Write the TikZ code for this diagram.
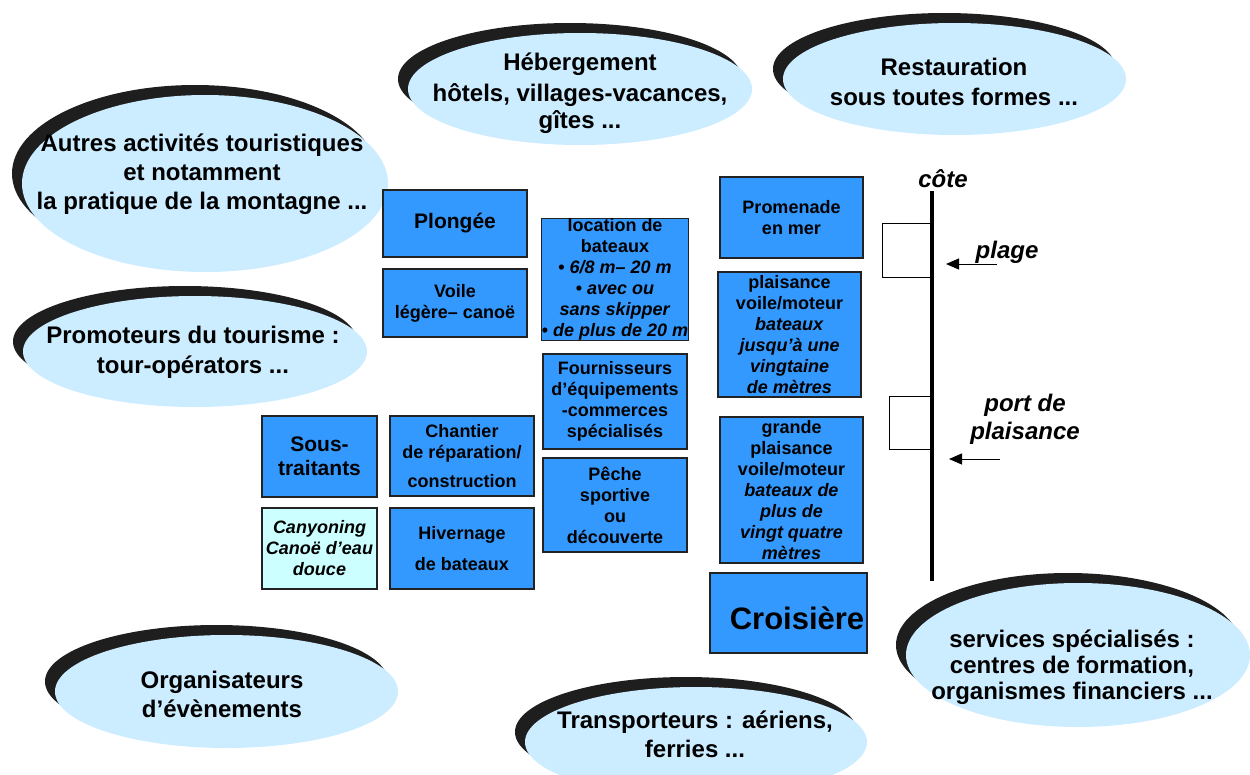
\documentclass[tikz,border=0pt]{standalone}
\usepackage{fontspec}
\setmainfont{Liberation Sans}
\usetikzlibrary{shapes.geometric,shadows,arrows.meta}
\definecolor{cloudfill}{RGB}{204,236,255}
\definecolor{cloudrim}{RGB}{30,30,30}
\definecolor{boxblue}{RGB}{51,153,255}
\definecolor{boxpale}{RGB}{204,255,255}
\definecolor{boxline}{RGB}{34,34,34}

\begin{document}
\begin{tikzpicture}[x=1pt,y=-1pt,
  cloud/.style={ellipse, fill=cloudfill, inner sep=0pt,
    drop shadow={shadow xshift=-10pt, shadow yshift=10pt, fill=cloudrim, opacity=1}},
  cloudtext/.style={align=center, inner sep=0pt, font=\bfseries\fontsize{24}{29}\selectfont},
  tile/.style={draw=boxline, line width=1.2pt, fill=boxblue, align=center, inner sep=0pt,
    font=\bfseries\fontsize{18}{21}\selectfont},
  bigtile/.style={tile, font=\bfseries\fontsize{21}{24}\selectfont},
  shoretext/.style={align=center, inner sep=0pt, font=\bfseries\itshape\fontsize{24}{28}\selectfont},
  pointer/.style={line width=1pt, -{Triangle[length=13pt,width=11pt]}}
]
\useasboundingbox (0,0) rectangle (1250,774);

% surrounding activities (ellipses with dark rim)
\node[cloud, minimum width=366pt, minimum height=177pt] (autres) at (205,183.5) {};
\node[cloudtext] (autrest) at (202,174) {Autres activités touristiques\\et notamment\\la pratique de la montagne ...};

\node[cloud, minimum width=344pt, minimum height=112pt] (heberg) at (580,89) {};
\node[cloudtext, font=\bfseries\fontsize{24}{27}\selectfont] (hebergt) at (580,93) {Hébergement\\[4pt]hôtels, villages-vacances,\\gîtes ...};

\node[cloud, minimum width=343pt, minimum height=112pt] (resto) at (954.5,79) {};
\node[cloudtext, font=\bfseries\fontsize{24}{30}\selectfont] (restot) at (954,82) {Restauration\\sous toutes formes ...};

\node[cloud, minimum width=344pt, minimum height=111pt] (promo) at (195,351.5) {};
\node[cloudtext, font=\bfseries\fontsize{24}{30}\selectfont] (promot) at (193,352) {Promoteurs du tourisme :\\tour-opérators ...};

\node[cloud, minimum width=343pt, minimum height=113pt] (orga) at (226.5,691.5) {};
\node[cloudtext] (orgat) at (222,694) {Organisateurs\\d’évènements};

\node[cloud, minimum width=342pt, minimum height=110pt] (transp) at (696,742) {};
\node[cloudtext] (transpt) at (695,734) {Transporteurs : aériens,\\ferries ...};

\node[cloud, minimum width=344pt, minimum height=144pt] (services) at (1078,655) {};
\node[cloudtext, font=\bfseries\fontsize{24}{26}\selectfont] (servicest) at (1072,667) {services spécialisés :\\centres de formation,\\organismes financiers ...};

% nautical activities
\node[bigtile, minimum width=144pt, minimum height=67pt] (plongee) at (455,223.5) {Plongée};
\node[tile, minimum width=144pt, minimum height=68pt] (voile) at (455,303) {Voile\\légère– canoë};
\node[tile, minimum width=144pt, minimum height=121pt] (location) at (615,279.5)
  {location de\\bateaux\\• \textit{6/8 m– 20 m}\\• \textit{avec ou}\\\textit{sans skipper}\\• \textit{de plus de 20 m}};
\node[tile, minimum width=144pt, minimum height=95pt] (fourn) at (615,401.5)
  {Fournisseurs\\d’équipements\\-commerces\\spécialisés};
\node[tile, minimum width=144pt, minimum height=94pt] (peche) at (615,505)
  {Pêche\\sportive\\ou\\découverte};
\node[tile, minimum width=144pt, minimum height=80pt] (chantier) at (462,456)
  {Chantier\\de réparation/\\[8pt]construction};
\node[tile, minimum width=144pt, minimum height=81pt] (hivernage) at (462,548.5)
  {Hivernage\\[10pt]de bateaux};
\node[bigtile, minimum width=115pt, minimum height=81pt] (sous) at (319.5,456.5) {Sous-\\traitants};
\node[tile, fill=boxpale, minimum width=115pt, minimum height=81pt,
  font=\bfseries\itshape\fontsize{18}{21}\selectfont] (canyon) at (319.5,548.5)
  {Canyoning\\Canoë d’eau\\douce};
\node[tile, minimum width=143pt, minimum height=81pt] (promenade) at (791.5,217.5) {Promenade\\en mer};
\node[tile, minimum width=143pt, minimum height=125pt] (plaisance) at (789.5,334.5)
  {plaisance\\voile/moteur\\\textit{bateaux}\\\textit{jusqu’à une}\\\textit{vingtaine}\\\textit{de mètres}};
\node[tile, minimum width=143pt, minimum height=146pt] (grande) at (791.5,490)
  {grande\\plaisance\\voile/moteur\\\textit{bateaux de}\\\textit{plus de}\\\textit{vingt quatre}\\\textit{mètres}};
\node[tile, minimum width=157pt, minimum height=80pt] (croisiere) at (788.5,613) {};
\node[inner sep=0pt, font=\bfseries\fontsize{31}{36}\selectfont] (croisieret) at (797,618) {Croisière};

% coastline with beach and marina
\coordinate (coteTop) at (932,191);
\coordinate (coteBot) at (932,581);
\draw[line width=3.5pt] (coteTop) -- (coteBot);
\node[shoretext] (cote) at (943,179) {côte};

\draw[line width=1pt] (932,223) -- (882,223) -- (882,277) -- (932,277);
\draw[line width=1pt] (932,396) -- (889,396) -- (889,449) -- (932,449);

\node[shoretext] (plage) at (1007,252) {plage};
\coordinate (plageTail) at (997,264);
\coordinate (plageHead) at (946,264);
\draw[pointer] (plageTail) -- (plageHead);

\node[shoretext] (port) at (1025,419) {port de\\plaisance};
\coordinate (portTail) at (1000,459);
\coordinate (portHead) at (949,459);
\draw[pointer] (portTail) -- (portHead);
\end{tikzpicture}
\end{document}
